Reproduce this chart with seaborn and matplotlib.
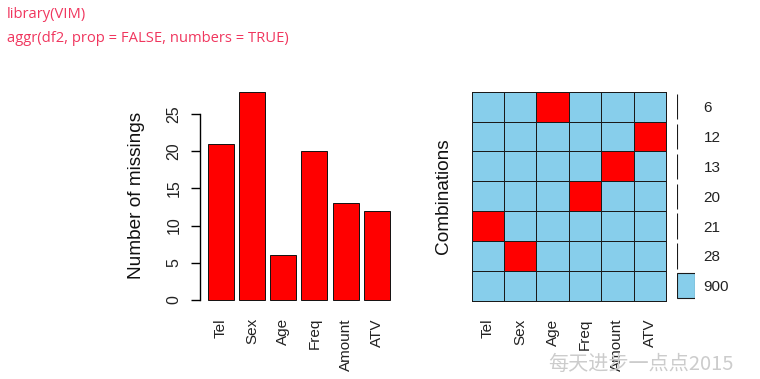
import matplotlib
matplotlib.use('Agg')
import matplotlib.pyplot as plt
import seaborn as sns
import pandas as pd
from matplotlib.colors import ListedColormap

variables = ['Tel', 'Sex', 'Age', 'Freq', 'Amount', 'ATV']
missing_counts = [21, 28, 6, 20, 13, 12]
y_ticks = [0, 5, 10, 15, 20, 25]

# combinations, top row first (1 = missing)
combo_counts = [6, 12, 13, 20, 21, 28, 900]
combo_patterns = [
    [0, 0, 1, 0, 0, 0],
    [0, 0, 0, 0, 0, 1],
    [0, 0, 0, 0, 1, 0],
    [0, 0, 0, 1, 0, 0],
    [1, 0, 0, 0, 0, 0],
    [0, 1, 0, 0, 0, 0],
    [0, 0, 0, 0, 0, 0],
]

code_lines = ['library(VIM)', 'aggr(df2, prop = FALSE, numbers = TRUE)']
watermark = '每天进步一点点2015'

sns.set_style('white')
plt.rcParams['font.family'] = ['Liberation Sans', 'DejaVu Sans']

W, H = 760, 379
fig = plt.figure(figsize=(W / 100, H / 100), dpi=100)


def box(x0, y0, x1, y1):
    # pixel box (top-left origin) -> figure fraction
    return [x0 / W, 1 - y1 / H, (x1 - x0) / W, (y1 - y0) / H]


# 1. Number of missings
ax1 = fig.add_axes(box(200, 83.3, 397.6, 308.3))
bar_df = pd.DataFrame({'var': variables, 'n': missing_counts})
sns.barplot(data=bar_df, x='var', y='n', color='red', saturation=1,
            edgecolor='#111111', linewidth=0.7, width=0.833, ax=ax1)
ax1.set_xlim(-0.667, 5.667)
ax1.set_ylim(-1.12, 29.12)
for s in ['top', 'right', 'bottom']:
    ax1.spines[s].set_visible(False)
ax1.spines['left'].set_bounds(0, 25)
ax1.spines['left'].set_color('black')
ax1.spines['left'].set_linewidth(1)
ax1.set_yticks(y_ticks)
ax1.set_yticklabels([str(t) for t in y_ticks], rotation=90, va='center',
                    fontsize=11.5, color='#222222')
ax1.tick_params(axis='y', left=True, length=6.5, width=1, pad=7, color='black')
ax1.tick_params(axis='x', length=0, pad=7)
ax1.set_xticks(range(len(variables)))
ax1.set_xticklabels(variables, rotation=90, va='top', fontsize=11, color='#222222')
ax1.set_xlabel('')
ax1.set_ylabel('Number of missings', fontsize=13.7, color='#111111')
ax1.yaxis.set_label_coords(-0.278, 0.5)

# 2. Combinations grid
ax2 = fig.add_axes(box(471.7, 91.7, 666, 300.7))
pat_df = pd.DataFrame(combo_patterns, columns=variables)
sns.heatmap(pat_df, cmap=ListedColormap(['skyblue', 'red']), cbar=False,
            linewidths=0.6, linecolor='#1a1a1a', xticklabels=variables,
            yticklabels=False, vmin=0, vmax=1, ax=ax2)
ax2.collections[0].set_clip_on(False)
ax2.tick_params(axis='x', length=0, pad=13)
ax2.set_xticklabels(variables, rotation=90, va='top', fontsize=11, color='#222222')
ax2.set_ylabel('Combinations', fontsize=13.7, color='#111111')
ax2.yaxis.set_label_coords(-0.101, 0.5)

# 3. combination counts (bars proportional to counts)
ax3 = fig.add_axes(box(676.7, 91.7, 695.3, 300.7))
cnt_df = pd.DataFrame({'lab': [str(c) for c in combo_counts], 'n': combo_counts})
sns.barplot(data=cnt_df, x='n', y='lab', orient='h', color='skyblue',
            saturation=1, edgecolor='#1a1a1a', linewidth=0.8, width=0.85, ax=ax3)
ax3.set_xlim(0, max(combo_counts))
ax3.set_ylim(len(combo_counts) - 0.5, -0.5)
for s in ax3.spines.values():
    s.set_visible(False)
ax3.set_xticks([])
ax3.set_xlabel('')
ax3.set_ylabel('')
ax3.yaxis.tick_right()
ax3.tick_params(axis='y', length=0, pad=6, labelsize=11, labelcolor='#222222')

# code lines and watermark
fig.text(7 / W, 1 - 15 / H, code_lines[0], fontsize=10.6, color='#F0365E',
         va='center', ha='left', family=['Open Sans', 'DejaVu Sans'])
fig.text(7 / W, 1 - 39 / H, code_lines[1], fontsize=10.6, color='#F0365E',
         va='center', ha='left', family=['Open Sans', 'DejaVu Sans'])
fig.text(548 / W, 1 - 364 / H, watermark, fontsize=14.5, color='#cccccc',
         va='center', ha='left', family=['Noto Sans CJK SC', 'DejaVu Sans'])

fig.savefig('out.png', dpi=100)
